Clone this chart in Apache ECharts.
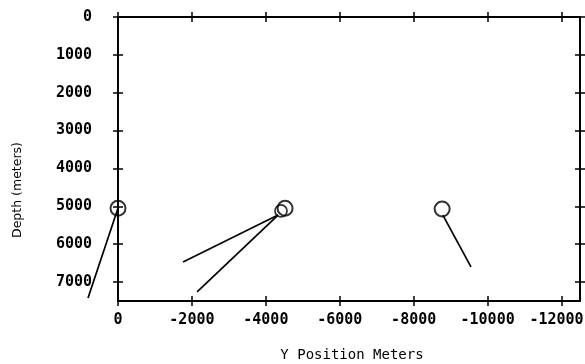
<!DOCTYPE html>
<html>
<head>
<meta charset="utf-8">
<script src="https://cdn.jsdelivr.net/npm/echarts@6/dist/echarts.min.js"></script>
<style>html,body{margin:0;padding:0;background:#fff}#c{width:585px;height:364px}</style>
</head>
<body>
<div id="c"></div>
<script>
// Tick values
const xTicks = [0, -2000, -4000, -6000, -8000, -10000, -12000];
const yTicks = [0, 1000, 2000, 3000, 4000, 5000, 6000, 7000];
// Source positions [Y position, depth]
const sourcesLarge = [[0, 5050], [-4520, 5050], [-8770, 5070]];
const sourcesSmall = [[-4410, 5120]];
// Line segments [Y position, depth]
const seg1 = [[0, 5050], [810, 7420]];
const seg2 = [[-4330, 5230], [-1760, 6470]];
const seg3 = [[-4330, 5230], [-2140, 7260]];
const seg4 = [[-8790, 5230], [-9550, 6600]];

const labelFont = {fontFamily: 'DejaVu Sans Mono', fontSize: 15, fontWeight: 'bold', color: '#000'};
const lineStyle = {color: '#000', width: 2};
const tickStyle = {color: '#000', width: 1.5};

function xAx(pos, inside, withLabel) {
  const a = {
    type: 'value', position: pos, min: -12500, max: 0, inverse: true, gridIndex: 0,
    axisLine: {show: true, onZero: false, lineStyle: lineStyle},
    axisTick: {show: true, inside: inside, length: 5, customValues: xTicks, lineStyle: tickStyle},
    axisLabel: {show: withLabel, customValues: xTicks, margin: 12,
      formatter: v => (v === -12000 ? '{r|' + v + '}' : String(v)),
      rich: {r: {...labelFont, padding: [0, 10, 0, 0]}}, ...labelFont},
    splitLine: {show: false}
  };
  if (withLabel) {
    a.name = 'Y Position Meters';
    a.nameLocation = 'middle';
    a.nameGap = 47;
    a.nameTextStyle = {fontFamily: 'DejaVu Sans Mono', fontSize: 14, color: '#000', padding: [0, 0, 0, 6]};
  }
  return a;
}
function yAx(pos, inside, withLabel) {
  const a = {
    type: 'value', position: pos, min: 0, max: 7500, inverse: true, gridIndex: 0,
    axisLine: {show: true, onZero: false, lineStyle: lineStyle},
    axisTick: {show: true, inside: inside, length: 5, customValues: yTicks, lineStyle: tickStyle},
    axisLabel: {show: withLabel, customValues: yTicks, margin: 26, formatter: v => String(v), ...labelFont},
    splitLine: {show: false}
  };
  if (withLabel) {
    a.name = 'Depth (meters)';
    a.nameLocation = 'middle';
    a.nameGap = 94;
    a.nameRotate = 90;
    a.nameTextStyle = {fontFamily: 'DejaVu Sans', fontSize: 12.5, color: '#000', padding: [0, 62, 0, 0]};
  }
  return a;
}

function seg(data, gi) {
  return {type: 'line', data: data, clip: false, symbol: 'none', silent: true,
    lineStyle: {color: '#000', width: 1.7}, xAxisIndex: gi ? 4 : 0, yAxisIndex: gi ? 4 : 0};
}

// hidden wider grid sharing the same scale, so the line that runs left of the 0 axis can be drawn
const hiddenX = {type: 'value', gridIndex: 1, min: -12500, max: 1000, inverse: true, show: false};
const hiddenY = {type: 'value', gridIndex: 1, min: 0, max: 7500, inverse: true, show: false};

const chart = echarts.init(document.getElementById('c'), null, {renderer: 'canvas'});
chart.setOption({
  animation: false,
  backgroundColor: '#fff',
  grid: [
    {left: 118, right: 5, top: 17, bottom: 63, containLabel: false, outerBoundsMode: 'none'},
    {left: 81, right: 5, top: 17, bottom: 63, containLabel: false, outerBoundsMode: 'none'}
  ],
  xAxis: [xAx('bottom', false, true), xAx('bottom', true, false), xAx('top', false, false), xAx('top', true, false), hiddenX],
  yAxis: [yAx('left', false, true), yAx('left', true, false), yAx('right', false, false), yAx('right', true, false), hiddenY],
  series: [
    seg(seg1, 1), seg(seg2), seg(seg3), seg(seg4),
    {type: 'scatter', data: sourcesLarge, symbol: 'circle', symbolSize: 15, clip: false,
      itemStyle: {color: 'rgba(0,0,0,0)', borderColor: '#000', borderWidth: 2}},
    {type: 'scatter', data: sourcesSmall, symbol: 'circle', symbolSize: 12, clip: false,
      itemStyle: {color: 'rgba(0,0,0,0)', borderColor: '#000', borderWidth: 1.7}}
  ]
});
</script>
</body>
</html>
